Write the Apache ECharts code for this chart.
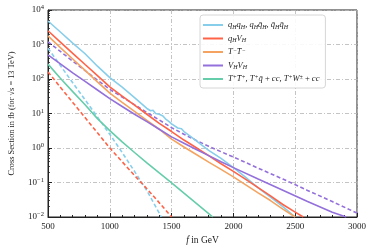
<!DOCTYPE html>
<html><head><meta charset="utf-8">
<script src="https://cdn.jsdelivr.net/npm/echarts@6/dist/echarts.min.js"></script>
<style>html,body{margin:0;padding:0;background:#fff}#c{width:374px;height:251px}</style>
</head><body><div id="c"></div>
<script>
// ---- data (f in GeV, cross sections in fb) ----
var fQQ = [500,600,700,800,900,1000,1100,1200,1300,1330,1350,1370,1400,1430,1450,1480,1500,1550,1580,1600,1650,1700,1800,1900,2000,2100,2200,2300,2400,2500];
var sQQ = [4800,2300,1100,540,235,110,58,29,14,12,12.5,10,9.5,8.5,7,5.8,5.0,3.8,3.6,3.0,2.2,1.6,0.85,0.5,0.27,0.14,0.07,0.038,0.02,0.01];
var fQV = [500,600,700,800,900,1000,1100,1200,1300,1400,1500,1600,1700,1800,1900,2000,2100,2200,2300,2400,2500,2565];
var sQV = [2500,1175,550,263,126,59,32,17.4,9.5,5.2,3.0,1.7,1.02,0.6,0.35,0.21,0.123,0.071,0.041,0.023,0.0138,0.01];
var fTT = [500,600,700,800,900,1000,1100,1200,1300,1400,1500,1600,1700,1800,1900,2000,2100,2200,2300,2400,2500];
var sTT = [1780,810,380,178,83,39,21,11.5,6.3,3.5,1.8,1.07,0.65,0.39,0.24,0.145,0.085,0.05,0.03,0.017,0.01];
var fVV = [500,600,700,800,900,1000,1100,1200,1300,1400,1500,1600,1700,1800,1900,2000,2200,2400,2600,2800,2913];
var sVV = [500,275,150,85,48,27,16,9.5,5.8,3.5,2.1,1.38,0.91,0.6,0.4,0.27,0.126,0.06,0.028,0.0138,0.01];
var fVVd = [500,600,700,800,900,1000,1100,1200,1300,1400,1500,1600,1700,1800,1900,2000,2200,2400,2600,2800,3000];
var sVVd = [1200,630,330,175,93,50,30,18,10.7,6.5,3.9,2.5,1.66,1.12,0.78,0.55,0.26,0.126,0.059,0.028,0.013];
var fTp = [500,600,700,800,900,1000,1100,1200,1300,1400,1500,1600,1700,1800,1833];
var sTp = [270,105,43,18,7.1,3.2,1.5,0.74,0.37,0.19,0.098,0.049,0.025,0.0126,0.01];
var fQVd = [500,600,700,800,900,1000,1100,1200,1300,1400,1500];
var sQVd = [160,58,21,7.6,2.75,1.0,0.4,0.16,0.066,0.026,0.01];
var fQQd = [500,600,700,800,900,1000,1100,1200,1300,1400,1416];
var sQQd = [780,245,78,25,7.9,2.5,0.74,0.21,0.058,0.013,0.01];

var xTicks = [500,1000,1500,2000,2500,3000];
var yExps = [-2,-1,0,1,2,3,4];
var names = ['qq','qv','tt','vv','tp'];

var yMinor = [];
for (var e = -2; e < 4; e++) for (var m = 2; m <= 9; m++) yMinor.push(m * Math.pow(10, e));

function pairs(f, s){ return f.map(function(v,i){ return [v, s[i]]; }); }

var C = {sky:'#87ceeb', tom:'#ff6347', san:'#f4a460', pur:'#9370db', aqu:'#66cdaa'};
var serif = '"Liberation Serif", "DejaVu Serif", serif';
var grid = {left:45, right:17, top:10, bottom:34, show:true, borderColor:'#222', borderWidth:1};
var dashDot = {color:'#b5b5b5', width:0.8, type:[4,2,1,2]};

function line(name, f, s, color, dashed){
  return {name:name, type:'line', data:pairs(f,s), symbol:'none', smooth:false, silent:true,
    lineStyle:{color:color, width:1.6, type: dashed ? [4,2.5] : 'solid'}, itemStyle:{color:color}, z: dashed?2:3};
}

var rich = {
  i:{fontFamily:serif, fontStyle:'italic', fontSize:8.5, color:'#222'},
  s:{fontFamily:serif, fontStyle:'italic', fontSize:6, color:'#222', verticalAlign:'bottom', padding:[4,0,0,0]},
  p:{fontFamily:serif, fontStyle:'italic', fontSize:6, color:'#222', verticalAlign:'top', padding:[0,0,4,0]},
  n:{fontFamily:serif, fontSize:8.5, color:'#222'}
};
var labels = {
  qq:'{i|q}{s|H}{i|q}{s|H}{n|, }{i|q}{s|H}{i|q̄}{s|H}{n|, }{i|q̄}{s|H}{i|q̄}{s|H}',
  qv:'{i|q}{s|H}{i|V}{s|H}',
  tt:'{i|T}{p|−}{i|T̄}{p|−}',
  vv:'{i|V}{s|H}{i|V}{s|H}',
  tp:'{i|T}{p|+}{i|T̄}{p|+}{n|, }{i|T}{p|+}{i|q̄}{n| + }{i|cc}{n|, }{i|T}{p|+}{i|W}{p|±}{n| + }{i|cc}'
};

var chart = echarts.init(document.getElementById('c'), null, {renderer:'canvas'});
chart.setOption({
  animation:false,
  backgroundColor:'#fff',
  grid:grid,
  legend:{
    data:names, orient:'vertical', left:200, top:15, right:null,
    itemWidth:20, itemHeight:2, itemGap:3.5, icon:'rect',
    padding:[5,6,4,3], backgroundColor:'rgba(255,255,255,0.9)', borderColor:'#ccc', borderWidth:0.8, borderRadius:3,
    formatter:function(n){ return labels[n]; },
    textStyle:{rich:rich, lineHeight:10, padding:[0,0,0,0]},
    selectedMode:false
  },
  xAxis:{
    type:'value', min:500, max:3000, interval:500,
    name:'{i|f}{n| in GeV}', nameLocation:'middle', nameGap:17,
    nameTextStyle:{rich:{i:{fontFamily:serif, fontStyle:'italic', fontSize:9.5, color:'#222'}, n:{fontFamily:serif, fontSize:9.5, color:'#222'}}},
    axisLine:{lineStyle:{color:'#222', width:1}},
    axisTick:{inside:true, length:4, lineStyle:{color:'#222'}},
    minorTick:{show:true, splitNumber:5, length:2, lineStyle:{color:'#222'}},
    axisLabel:{fontFamily:serif, fontSize:9, color:'#222', margin:5,
      formatter:function(v){ return xTicks.indexOf(v) >= 0 ? String(v) : ''; }},
    splitLine:{show:true, lineStyle:dashDot}
  },
  yAxis:[{
    type:'log', logBase:10, min:0.01, max:10000,
    name:'Cross Section in fb (for √s = 13 TeV)', nameLocation:'middle', nameGap:32,
    nameTextStyle:{fontFamily:serif, fontSize:8.3, color:'#222'},
    axisLine:{show:true, lineStyle:{color:'#222', width:1}},
    axisTick:{inside:true, length:4, lineStyle:{color:'#222'}},
    axisLabel:{margin:4, formatter:function(v){
        var e = Math.round(Math.log10(v));
        return '{b|10}{u|' + (e < 0 ? '−' + (-e) : e) + '}'; },
      rich:{b:{fontFamily:serif, fontSize:9, color:'#222'}, u:{fontFamily:serif, fontSize:6.5, color:'#222', verticalAlign:'top', padding:[0,0,5,0]}}},
    splitLine:{show:true, lineStyle:dashDot}
  },{
    type:'log', logBase:10, min:0.01, max:10000, position:'left',
    axisLine:{show:false},
    axisTick:{show:true, inside:true, length:2, customValues:yMinor, lineStyle:{color:'#222', width:0.8}},
    axisLabel:{show:false}, splitLine:{show:false}
  }],
  series:[
    line('qq', fQQ, sQQ, C.sky, false),
    line('qv', fQV, sQV, C.tom, false),
    line('tt', fTT, sTT, C.san, false),
    line('vv', fVV, sVV, C.pur, false),
    line('tp', fTp, sTp, C.aqu, false),
    line('qq dashed', fQQd, sQQd, C.sky, true),
    line('qv dashed', fQVd, sQVd, C.tom, true),
    line('vv dashed', fVVd, sVVd, C.pur, true)
  ]
});
</script></body></html>
